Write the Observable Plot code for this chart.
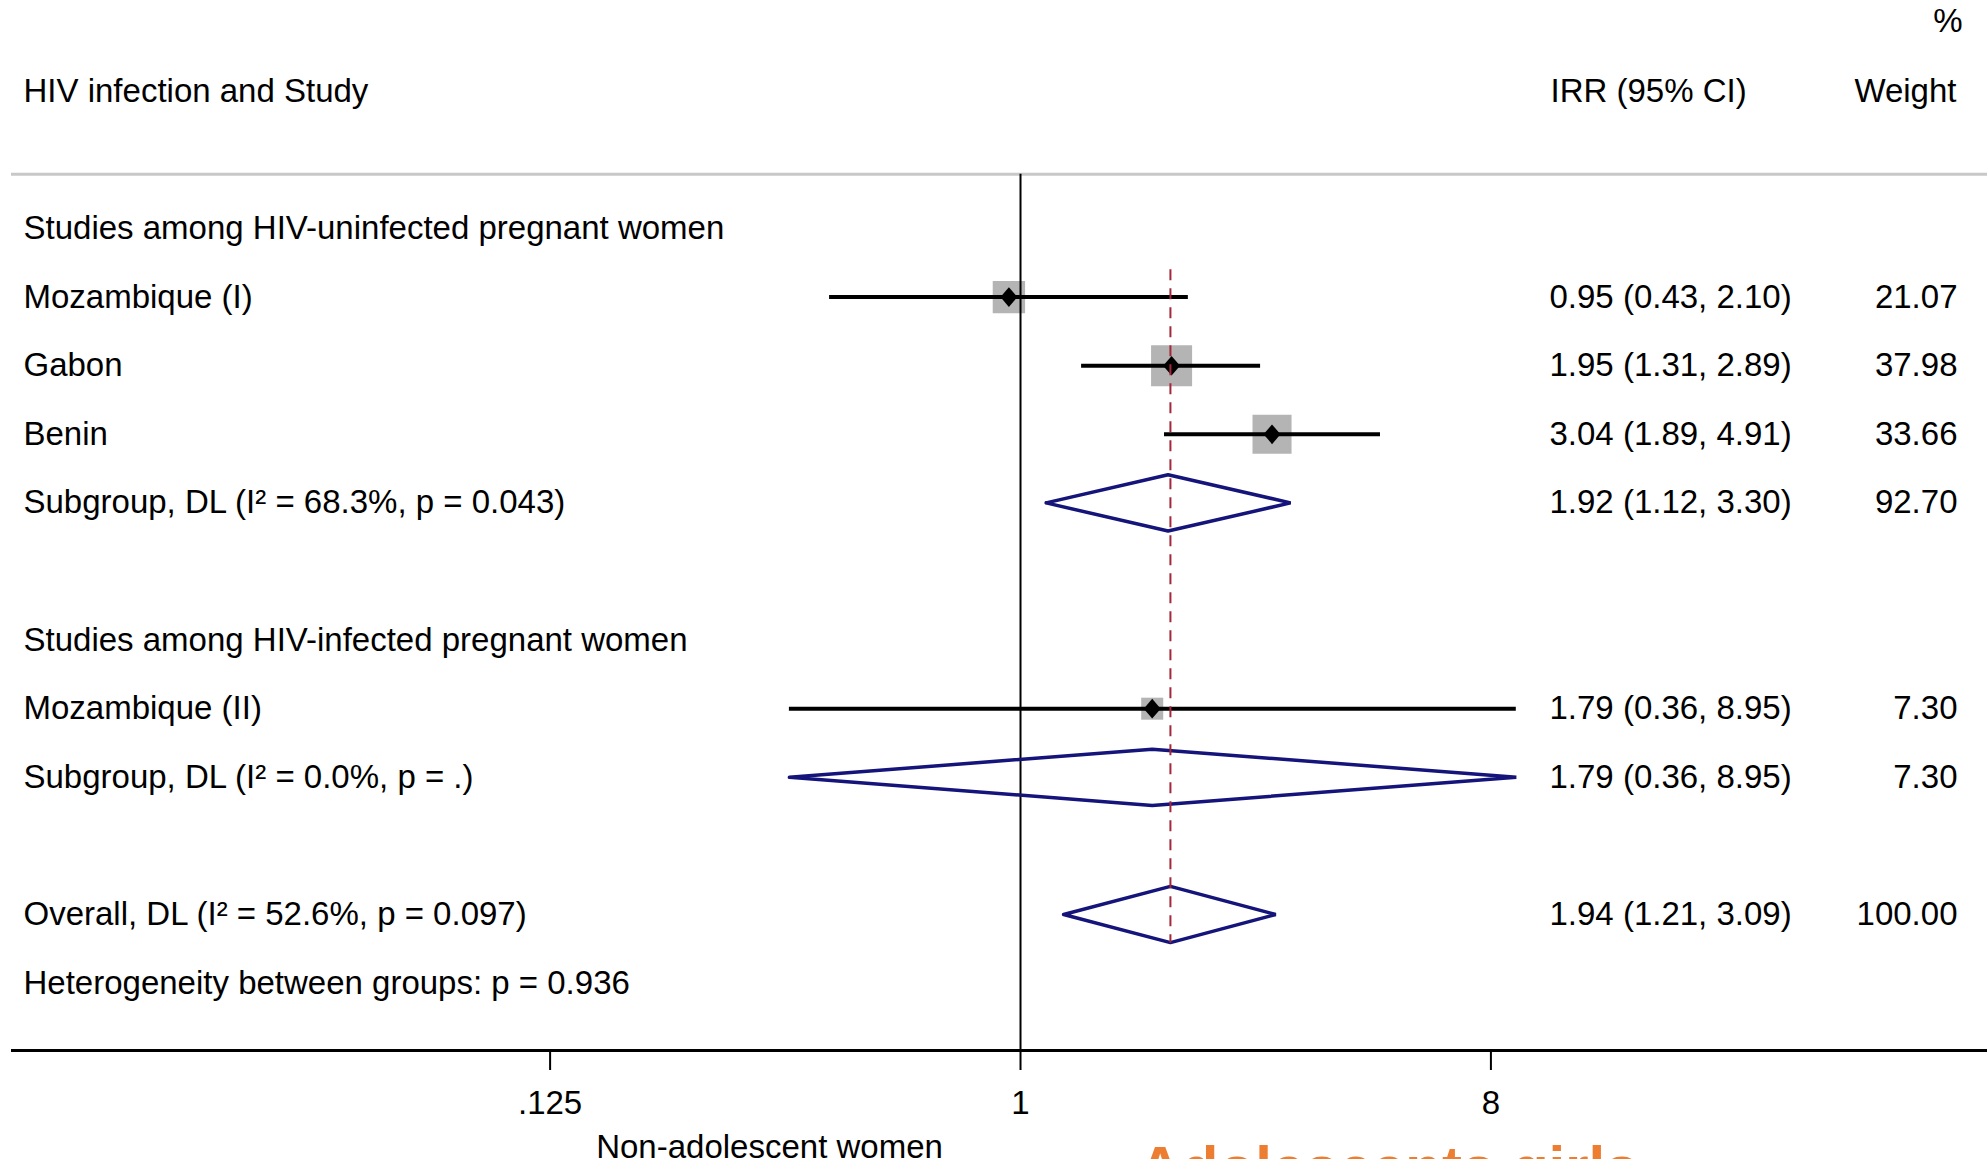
<!DOCTYPE html>
<html>
<head>
<meta charset="utf-8">
<script src="https://cdn.jsdelivr.net/npm/d3@7"></script>
<script src="https://cdn.jsdelivr.net/npm/@observablehq/plot@0.6"></script>
<style>
  html, body { margin: 0; padding: 0; background: #fff; overflow: hidden; }
</style>
</head>
<body>
<div id="chart"></div>
<script>
// ---------------- DATA ----------------
const headerLeft = "HIV infection and Study";
const headerIRR = "IRR (95% CI)";
const headerWeight = "Weight";
const headerPct = "%";

const groupTitles = ["Studies among HIV-uninfected pregnant women", "Studies among HIV-infected pregnant women"];
const groupRows = [0, 6];

const studyNames = ["Mozambique (I)", "Gabon", "Benin", "Mozambique (II)"];
const studyRows = [1, 2, 3, 7];
const studyIRR = [0.95, 1.95, 3.04, 1.79];
const studyLo = [0.43, 1.31, 1.89, 0.36];
const studyHi = [2.10, 2.89, 4.91, 8.95];
const studyWeight = [21.07, 37.98, 33.66, 7.30];

const pooledLabels = ["Subgroup, DL (I\u00B2 = 68.3%, p = 0.043)", "Subgroup, DL (I\u00B2 = 0.0%, p = .)", "Overall, DL (I\u00B2 = 52.6%, p = 0.097)"];
const pooledRows = [4, 8, 10];
const pooledIRR = [1.92, 1.79, 1.94];
const pooledLo = [1.12, 0.36, 1.21];
const pooledHi = [3.30, 8.95, 3.09];
const pooledWeight = [92.70, 7.30, 100.00];

const hetLabel = "Heterogeneity between groups: p = 0.936";
const hetRow = 11;

const tickValues = [0.125, 1, 8];
const tickLabels = [".125", "1", "8"];

const xLabelLeft = "Non-adolescent women";
const xLabelRight = "Adolescents girls";

// ---------------- BUILD ----------------
const studies = studyNames.map((name, i) => ({
  name, row: studyRows[i], irr: studyIRR[i], lo: studyLo[i], hi: studyHi[i], weight: studyWeight[i]
}));
const pooled = pooledLabels.map((name, i) => ({
  name, row: pooledRows[i], irr: pooledIRR[i], lo: pooledLo[i], hi: pooledHi[i], weight: pooledWeight[i]
}));
const fmt = v => v.toFixed(2);
const ciText = d => `${fmt(d.irr)} (${fmt(d.lo)}, ${fmt(d.hi)})`;

const leftRows = [
  ...groupTitles.map((t, i) => ({row: groupRows[i], text: t})),
  ...studies.map(d => ({row: d.row, text: d.name})),
  ...pooled.map(d => ({row: d.row, text: d.name})),
  {row: hetRow, text: hetLabel}
];
const rightRows = [...studies, ...pooled];

const H = 0.41; // half-height of pooled diamonds, in row units
const diamondPts = pooled.flatMap((d, i) => [
  {x: d.lo, y: d.row, g: i}, {x: d.irr, y: d.row - H, g: i}, {x: d.hi, y: d.row, g: i},
  {x: d.irr, y: d.row + H, g: i}, {x: d.lo, y: d.row, g: i}
]);

const SEP_ROW = -0.79;
const AXIS_ROW = 11.983;
const HEADER_ROW = -2;
const PCT_ROW = -3.02;

const tallDiamond = {
  draw(ctx, size) {
    const s = Math.sqrt(size), w = s * 0.62, h = s * 0.72;
    ctx.moveTo(0, -h); ctx.lineTo(w, 0); ctx.lineTo(0, h); ctx.lineTo(-w, 0); ctx.closePath();
  }
};

const W = 1987, HT = 1159;
const FONT = 33;

const chart = Plot.plot({
  width: W,
  height: HT,
  marginLeft: 11,
  marginRight: 0,
  marginTop: 0,
  marginBottom: 109,
  style: {fontFamily: "'Liberation Sans', Arial, sans-serif", fontSize: FONT + "px", background: "#fff", color: "#000"},
  x: {type: "log", base: 2, domain: [Math.pow(2, -6.435), Math.pow(2, 6.167)], range: [11, 1987], axis: null},
  y: {domain: [-3.324, 11.983], range: [0, 1050], axis: null},
  r: {type: "pow", exponent: 0.5, domain: [0, 37.98], range: [4.06, 23.14]},
  marks: [
    Plot.ruleY([SEP_ROW], {stroke: "#c8c8c8", strokeWidth: 3}),
    Plot.dot(studies, {x: "irr", y: "row", r: "weight", symbol: "square", fill: "#b4b4b4"}),
    Plot.ruleY(studies, {y: "row", x1: "lo", x2: "hi", stroke: "#000", strokeWidth: 4}),
    Plot.ruleX([1], {y1: SEP_ROW, y2: AXIS_ROW, stroke: "#000", strokeWidth: 2}),
    Plot.dot(studies, {x: "irr", y: "row", r: 7.7, symbol: tallDiamond, fill: "#000"}),
    Plot.line(diamondPts, {x: "x", y: "y", z: "g", stroke: "#14147a", strokeWidth: 3.5, strokeLinejoin: "miter"}),
    Plot.ruleX([pooledIRR[2]], {y1: 0.6, y2: 10.42, stroke: "#a3283a", strokeWidth: 2, strokeDasharray: "11,8"}),
    Plot.ruleY([AXIS_ROW], {stroke: "#000", strokeWidth: 3}),
    Plot.axisX({ticks: tickValues, tickFormat: d => tickLabels[tickValues.indexOf(d)], tickSize: 20, tickPadding: 20, fontSize: FONT, label: null, strokeWidth: 2}),
    // header
    Plot.text([headerLeft], {y: () => HEADER_ROW, text: d => d, frameAnchor: "left", dx: 12, textAnchor: "start", fontSize: FONT, fill: "#000"}),
    Plot.text([headerIRR], {y: () => HEADER_ROW, text: d => d, frameAnchor: "right", dx: -437, textAnchor: "start", fontSize: FONT, fill: "#000"}),
    Plot.text([headerWeight], {y: () => HEADER_ROW, text: d => d, frameAnchor: "right", dx: -31, textAnchor: "end", fontSize: FONT, fill: "#000"}),
    Plot.text([headerPct], {y: () => PCT_ROW, text: d => d, frameAnchor: "right", dx: -25, textAnchor: "end", fontSize: FONT, fill: "#000"}),
    // left column
    Plot.text(leftRows, {y: "row", text: "text", frameAnchor: "left", dx: 12, textAnchor: "start", fontSize: FONT, fill: "#000"}),
    // right columns
    Plot.text(rightRows, {y: "row", text: ciText, frameAnchor: "right", dx: -438, textAnchor: "start", fontSize: FONT, fill: "#000"}),
    Plot.text(rightRows, {y: "row", text: d => fmt(d.weight), frameAnchor: "right", dx: -30, textAnchor: "end", fontSize: FONT, fill: "#000"}),
    // x labels below axis
    Plot.text([xLabelLeft], {text: d => d, frameAnchor: "bottom-left", dx: 758, dy: 84, textAnchor: "middle", lineAnchor: "top", fontSize: FONT, fill: "#000"}),
    Plot.text([xLabelRight], {text: d => d, frameAnchor: "bottom-left", dx: 1127, dy: 95, textAnchor: "start", lineAnchor: "top", fontSize: 60, fontWeight: "bold", fill: "#ed7d31"})
  ]
});
document.getElementById("chart").appendChild(chart);
</script>
</body>
</html>
